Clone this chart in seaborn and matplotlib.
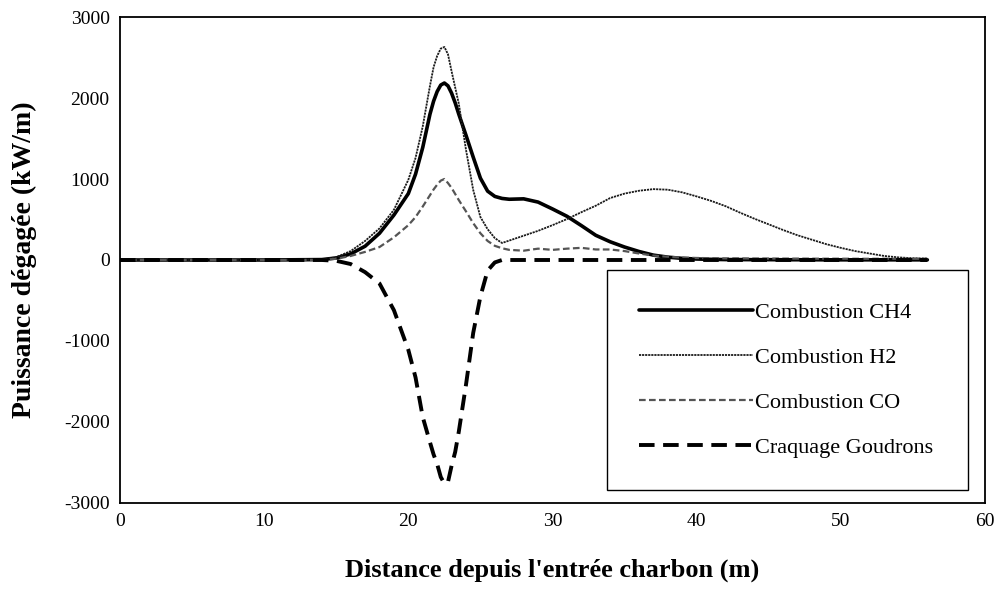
import matplotlib
matplotlib.use("Agg")
import matplotlib.pyplot as plt
import seaborn as sns

# Distance along the reactor (m)
distance = [0, 5, 10, 14, 15, 16, 17, 18, 19, 20, 20.5, 21, 21.5, 21.75, 22,
            22.25, 22.5, 22.75, 23, 23.25, 23.5, 24, 24.5, 25, 25.5, 26, 26.5,
            27, 28, 29, 30, 31, 32, 33, 34, 35, 36, 37, 38, 39, 40, 41, 42,
            43, 44, 45, 46, 47, 48, 49, 50, 51, 52, 53, 54, 55, 56]

# Released power (kW/m)
ch4 = [0, 0, 0, 5, 25, 75, 170, 330, 555, 820, 1060, 1390, 1800, 1960, 2080,
       2160, 2185, 2150, 2060, 1940, 1800, 1540, 1270, 1010, 850, 785, 760,
       750, 755, 715, 630, 540, 425, 305, 225, 160, 105, 60, 35, 20, 12, 8, 5,
       5, 4, 4, 3, 3, 3, 2, 2, 2, 2, 2, 2, 2, 2]
h2 = [0, 0, 0, 5, 35, 110, 235, 390, 620, 990, 1260, 1650, 2150, 2380, 2520,
      2610, 2630, 2540, 2330, 2130, 1930, 1360, 865, 530, 380, 270, 210,
      240, 300, 360, 430, 505, 590, 670, 765, 820, 855, 875, 868, 835, 785, 730, 665,
      585, 510, 440, 370, 305, 250, 195, 150, 110, 80, 50, 32, 22, 18]
co = [0, 0, 0, 2, 15, 50, 100, 160, 280, 430, 530, 660, 800, 870, 930,
      980, 1000, 950, 890, 815, 740, 600, 455, 330, 235, 175, 145,
      125, 115, 140, 125, 140, 150, 130, 130, 110, 80, 55, 40, 30, 25, 22, 20,
      20, 18, 18, 17, 17, 16, 16, 16, 15, 15, 15, 15, 15, 15]
goudrons = [0, 0, 0, 0, -10, -50, -150, -290, -620, -1110, -1450, -1940, -2250, -2400, -2520,
            -2680, -2760, -2740, -2540, -2370, -2120, -1540, -900, -450, -130, -30, 0,
            0, 0, 0, 0, 0, 0, 0, 0, 0, 0, 0, 0, 0, 0, 0, 0,
            0, 0, 0, 0, 0, 0, 0, 0, 0, 0, 0, 0, 0, 0]

labels = ["Combustion CH4", "Combustion H2", "Combustion CO", "Craquage Goudrons"]
x_ticks = [0, 10, 20, 30, 40, 50, 60]
y_ticks = [-3000, -2000, -1000, 0, 1000, 2000, 3000]

sns.set_theme(style="white")
plt.rcParams["font.family"] = ["Liberation Serif", "DejaVu Serif"]
plt.rcParams["axes.unicode_minus"] = False
plt.rcParams["text.color"] = "black"
plt.rcParams["axes.labelcolor"] = "black"

fig = plt.figure(figsize=(10, 5.99), dpi=100)
ax = fig.add_axes([0.12, 0.1603, 0.865, 0.8113])

sns.lineplot(x=distance, y=ch4, ax=ax, color="black", linewidth=2.6,
             label=labels[0])
sns.lineplot(x=distance, y=h2, ax=ax, color="#1a1a1a", linewidth=1.3,
             linestyle=(0, (1.2, 0.5)), label=labels[1])
sns.lineplot(x=distance, y=co, ax=ax, color="#555555", linewidth=1.6,
             linestyle=(0, (3, 1.5)), label=labels[2])
sns.lineplot(x=distance, y=goudrons, ax=ax, color="black", linewidth=2.8,
             linestyle=(0, (4, 2.2)), label=labels[3])

ax.set_xlim(0, 60)
ax.set_ylim(-3000, 3000)
ax.set_xticks(x_ticks)
ax.set_yticks(y_ticks)
ax.tick_params(direction="inout", length=7, width=1, colors="black",
               labelsize=14, pad=4)

for side in ["left", "right", "top", "bottom"]:
    ax.spines[side].set_visible(True)
    ax.spines[side].set_color("black")
    ax.spines[side].set_linewidth(1.3)

ax.set_xlabel("Distance depuis l'entrée charbon (m)", fontsize=19,
              fontweight="bold", labelpad=20, color="black")
ax.set_ylabel("Puissance dégagée (kW/m)", fontsize=20, fontweight="bold",
              labelpad=19, color="black")

leg = ax.legend(loc="lower left", bbox_to_anchor=(0.563, 0.027, 0.4173, 0.4),
                mode="expand", borderaxespad=0, fancybox=False, frameon=True,
                fontsize=16, handlelength=5.1, handletextpad=0.1,
                labelspacing=1.1, borderpad=1.45)
leg.get_frame().set_edgecolor("black")
leg.get_frame().set_linewidth(1.0)
leg.get_frame().set_alpha(1)
for t in leg.get_texts():
    t.set_color("black")

fig.savefig("out.png", dpi=100, facecolor="white")
